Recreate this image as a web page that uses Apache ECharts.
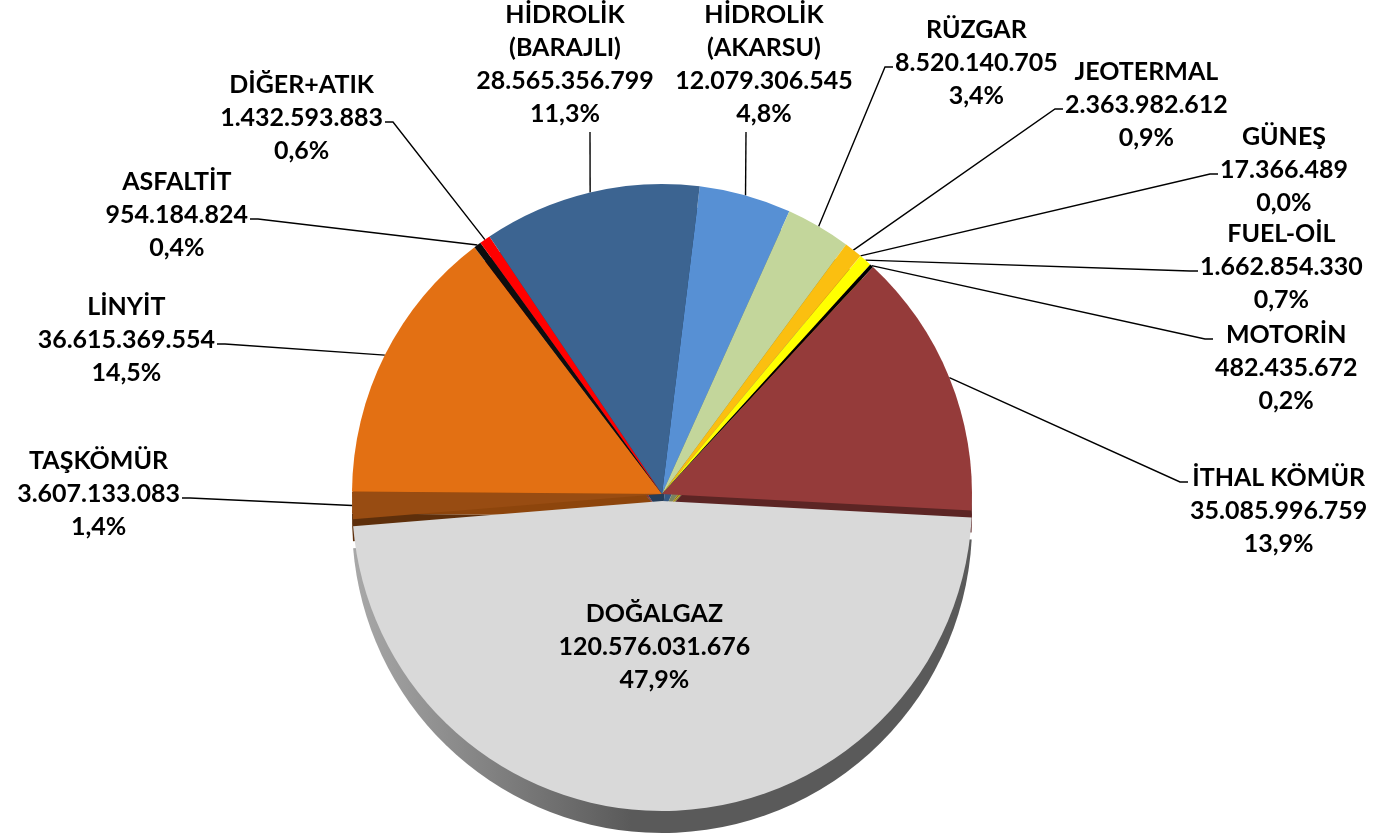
<!DOCTYPE html>
<html>
<head>
<meta charset="utf-8">
<script src="https://cdn.jsdelivr.net/npm/echarts@6/dist/echarts.min.js"></script>
<style>
html, body { margin: 0; padding: 0; background: #fff; }
#chart { width: 1374px; height: 837px; }
</style>
</head>
<body>
<div id="chart"></div>
<script>
// clockwise from the top, starting with HİDROLİK (AKARSU)
const names = [
  'HİDROLİK\n(AKARSU)', 'RÜZGAR', 'JEOTERMAL', 'GÜNEŞ', 'FUEL-OİL', 'MOTORİN',
  'İTHAL KÖMÜR', 'DOĞALGAZ', 'TAŞKÖMÜR', 'LİNYİT', 'ASFALTİT', 'DİĞER+ATIK',
  'HİDROLİK\n(BARAJLI)'
]
const values = [
  12079306545, 8520140705, 2363982612, 17366489, 1662854330, 482435672,
  35085996759, 120576031676, 3607133083, 36615369554, 954184824, 1432593883,
  28565356799
]
const colors = [
  '#5790d4', '#c3d69b', '#fbbf10', '#f79646', '#ffff00', '#000000',
  '#953b3a', '#d9d9d9', '#984c12', '#e37013', '#0d0d0d', '#ff0000',
  '#3c6491'
]

const cx = 662
const cy = 494
const R = 310
const depth = 22
const lineH = 33

// where each leader line ends, as an offset from the pie centre, and how the text hangs
const labelSpots = {
  'HİDROLİK\n(AKARSU)': { end: [84, -362], side: 'top', shift: 18 },
  'HİDROLİK\n(BARAJLI)': { end: [-72, -362], side: 'top', shift: -25 },
  'RÜZGAR': { end: [223, -427], side: 'right', row: 1 },
  'JEOTERMAL': { end: [393, -385], side: 'right', row: 1 },
  'GÜNEŞ': { end: [548, -320], side: 'right', row: 1 },
  'FUEL-OİL': { end: [528, -223], side: 'right', row: 1 },
  'MOTORİN': { end: [543, -155], side: 'right', row: 0 },
  'İTHAL KÖMÜR': { end: [518, -12], side: 'right', row: 0 },
  'DİĞER+ATIK': { end: [-269, -372], side: 'left', row: 1 },
  'ASFALTİT': { end: [-404, -275], side: 'left', row: 1 },
  'LİNYİT': { end: [-437, -150], side: 'left', row: 1 },
  'TAŞKÖMÜR': { end: [-472, 4], side: 'left', row: 1 },
  'DOĞALGAZ': { side: 'inside', shift: [-10, -12] }
}

const total = values.reduce((a, b) => a + b, 0)
const fmtNum = v => String(v).replace(/\B(?=(\d{3})+(?!\d))/g, '.')
const fmtPct = v => (v / total * 100).toFixed(1).replace('.', ',') + '%'

function darken(hex, f) {
  const n = parseInt(hex.slice(1), 16)
  const r = Math.round(((n >> 16) & 255) * f)
  const g = Math.round(((n >> 8) & 255) * f)
  const b = Math.round((n & 255) * f)
  return `rgb(${r},${g},${b})`
}

const font = { fontFamily: 'Lato', fontWeight: 'bold', fontSize: 25, lineHeight: lineH, color: '#000' }

const topData = names.map((name, i) => {
  const item = { name, value: values[i], itemStyle: { color: colors[i] } }
  if (name === 'DOĞALGAZ') {
    item.selected = true
    item.label = { position: 'inside' }
  }
  return item
})

const sideData = names.map((name, i) => {
  const item = { name, value: values[i], itemStyle: { color: darken(colors[i], 0.62) } }
  if (name === 'DOĞALGAZ') {
    item.selected = true
    item.itemStyle.color = new echarts.graphic.LinearGradient(0, 0, 1, 0, [
      { offset: 0, color: '#a8a8a8' },
      { offset: 0.45, color: '#5a5a5a' },
      { offset: 1, color: '#5a5a5a' }
    ])
  }
  return item
})

function placeLabel(params) {
  const spot = labelSpots[names[params.dataIndex]]
  if (!spot) return {}
  if (spot.side === 'inside') return { dx: spot.shift[0], dy: spot.shift[1] }
  const start = params.labelLinePoints[0]
  const ex = cx + spot.end[0]
  const ey = cy + spot.end[1]
  if (spot.side === 'top') {
    return {
      x: ex + spot.shift, y: ey - 2, align: 'center', verticalAlign: 'bottom',
      labelLinePoints: [start, [ex, ey], [ex, ey]]
    }
  }
  const dir = spot.side === 'right' ? 1 : -1
  return {
    x: ex + dir * 10,
    y: ey + (1 - spot.row) * lineH - 4,
    align: spot.side === 'right' ? 'left' : 'right',
    verticalAlign: 'middle',
    labelLinePoints: [start, [ex, ey], [ex + dir * 8, ey]]
  }
}

const chart = echarts.init(document.getElementById('chart'))
chart.setOption({
  animation: false,
  series: [
    {
      type: 'pie',
      silent: true,
      z: 1,
      center: [cx, cy + depth],
      radius: R,
      startAngle: 83,
      selectedMode: 'single',
      selectedOffset: 7,
      label: { show: false },
      labelLine: { show: false },
      data: sideData
    },
    {
      type: 'pie',
      silent: true,
      z: 2,
      center: [cx, cy],
      radius: R,
      startAngle: 83,
      selectedMode: 'single',
      selectedOffset: 7,
      avoidLabelOverlap: false,
      label: {
        show: true,
        position: 'outside',
        alignTo: 'none',
        ...font,
        formatter: p => {
          const lines = p.name.split('\n').concat([fmtNum(p.value), fmtPct(p.value)])
          return lines.map(s => '{c|' + s + '}').join('\n')
        },
        rich: { c: { ...font, align: 'center' } }
      },
      labelLine: {
        show: true,
        length: 20,
        length2: 10,
        lineStyle: { color: '#000', width: 1.4 }
      },
      labelLayout: placeLabel,
      data: topData
    }
  ]
})
</script>
</body>
</html>
